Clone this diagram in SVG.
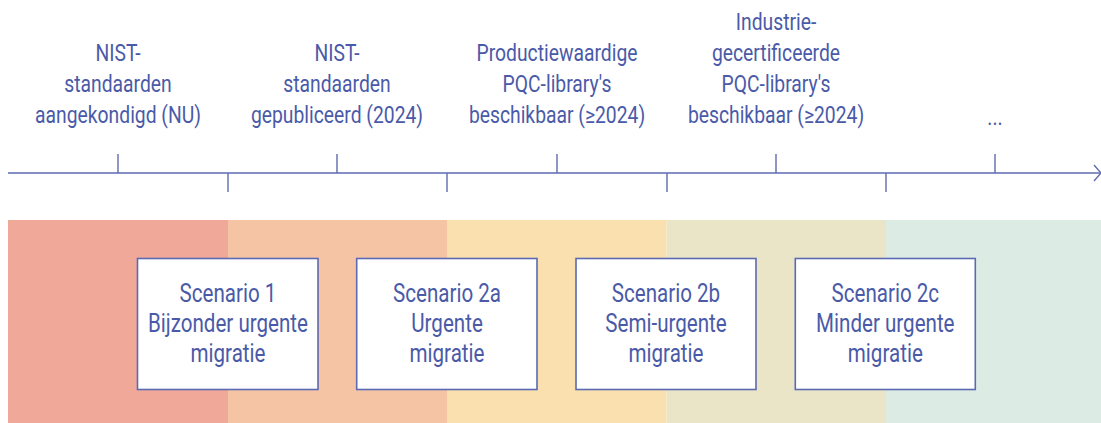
<svg xmlns="http://www.w3.org/2000/svg" width="1101" height="423" viewBox="0 0 1101 423">
<style>
.lbl{font-family:Roboto,"Liberation Sans",sans-serif;font-size:23px;fill:#4A5AA8;text-anchor:middle}
.bt{font-family:Roboto,"Liberation Sans",sans-serif;font-size:25.5px;fill:#4A5AA8;text-anchor:middle}
.ax{stroke:#5D6BB0;stroke-width:1.4;fill:none}
.box{fill:#FFFFFF;stroke:#5B6AB3;stroke-width:1.6}
</style>
<rect width="1101" height="423" fill="#FFFFFF"/>
<g id="bands">
<rect x="8" y="220" width="220" height="203" fill="#F0A899"/>
<rect x="228" y="220" width="219" height="203" fill="#F5C4A4"/>
<rect x="447" y="220" width="219.5" height="203" fill="#FADFAF"/>
<rect x="666.5" y="220" width="219.5" height="203" fill="#EBE5C8"/>
<rect x="886" y="220" width="215" height="203" fill="#DCECE4"/>
</g>
<g id="connectors">
<line class="ax" x1="8" y1="173" x2="1100" y2="173"/>
<polyline class="ax" points="1094,165 1101,173 1094,181"/>
<line class="ax" x1="118" y1="154" x2="118" y2="173"/>
<line class="ax" x1="337" y1="154" x2="337" y2="173"/>
<line class="ax" x1="557" y1="154" x2="557" y2="173"/>
<line class="ax" x1="776" y1="154" x2="776" y2="173"/>
<line class="ax" x1="995" y1="154" x2="995" y2="173"/>
<line class="ax" x1="228" y1="173" x2="228" y2="192"/>
<line class="ax" x1="447" y1="173" x2="447" y2="192"/>
<line class="ax" x1="667" y1="173" x2="667" y2="192"/>
<line class="ax" x1="886" y1="173" x2="886" y2="192"/>
</g>
<g id="label1" class="lbl">
<text transform="translate(118,61) scale(0.84,1)">NIST-</text>
<text transform="translate(118,92) scale(0.84,1)">standaarden</text>
<text transform="translate(118,123) scale(0.84,1)">aangekondigd (NU)</text>
</g>
<g id="label2" class="lbl">
<text transform="translate(337,61) scale(0.84,1)">NIST-</text>
<text transform="translate(337,92) scale(0.84,1)">standaarden</text>
<text transform="translate(337,123) scale(0.84,1)">gepubliceerd (2024)</text>
</g>
<g id="label3" class="lbl">
<text transform="translate(557,61) scale(0.84,1)">Productiewaardige</text>
<text transform="translate(557,92) scale(0.84,1)">PQC-library's</text>
<text transform="translate(557,123) scale(0.84,1)">beschikbaar (≥2024)</text>
</g>
<g id="label4" class="lbl">
<text transform="translate(776,30) scale(0.84,1)">Industrie-</text>
<text transform="translate(776,61) scale(0.84,1)">gecertificeerde</text>
<text transform="translate(776,92) scale(0.84,1)">PQC-library's</text>
<text transform="translate(776,123) scale(0.84,1)">beschikbaar (≥2024)</text>
</g>
<g id="label5" class="lbl">
<text transform="translate(995,125) scale(0.84,1)">...</text>
</g>
<g id="scenario1">
<rect class="box" x="137.5" y="258.5" width="180.5" height="131"/>
<g class="bt">
<text transform="translate(228,302) scale(0.807,1)">Scenario 1</text>
<text transform="translate(228,332) scale(0.807,1)">Bijzonder urgente</text>
<text transform="translate(228,362) scale(0.807,1)">migratie</text>
</g>
</g>
<g id="scenario2a">
<rect class="box" x="356.7" y="258.5" width="180.3" height="131"/>
<g class="bt">
<text transform="translate(447,302) scale(0.807,1)">Scenario 2a</text>
<text transform="translate(447,332) scale(0.807,1)">Urgente</text>
<text transform="translate(447,362) scale(0.807,1)">migratie</text>
</g>
</g>
<g id="scenario2b">
<rect class="box" x="576" y="258.5" width="180" height="131"/>
<g class="bt">
<text transform="translate(666,302) scale(0.807,1)">Scenario 2b</text>
<text transform="translate(666,332) scale(0.807,1)">Semi-urgente</text>
<text transform="translate(666,362) scale(0.807,1)">migratie</text>
</g>
</g>
<g id="scenario2c">
<rect class="box" x="795.3" y="258.5" width="180" height="131"/>
<g class="bt">
<text transform="translate(885.3,302) scale(0.807,1)">Scenario 2c</text>
<text transform="translate(885.3,332) scale(0.807,1)">Minder urgente</text>
<text transform="translate(885.3,362) scale(0.807,1)">migratie</text>
</g>
</g>
</svg>
